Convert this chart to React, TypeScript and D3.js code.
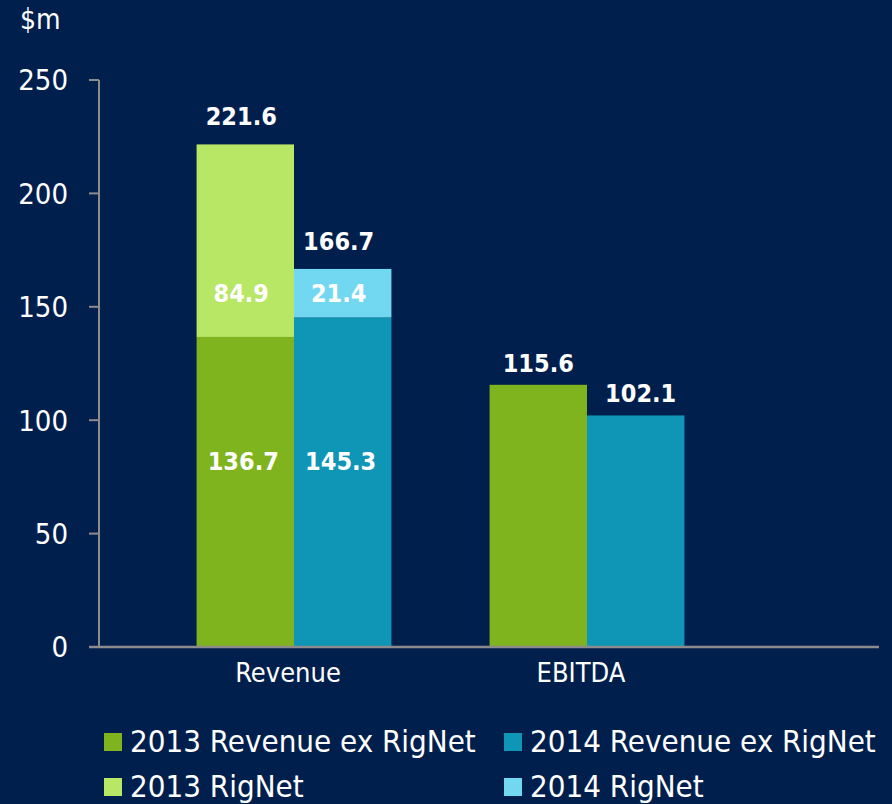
import React, { useEffect } from "react";
import * as d3 from "d3";

// chart data
const categories = ["Revenue", "EBITDA"];
const years = ["2013", "2014"];
const baseValues = [
  [136.7, 145.3], // Revenue ex RigNet
  [115.6, 102.1], // EBITDA
];
const rigNetValues = [
  [84.9, 21.4],
  [0, 0],
];
const yTicks = [0, 50, 100, 150, 200, 250];
const legendLabels = [
  "2013 Revenue ex RigNet",
  "2014 Revenue ex RigNet",
  "2013 RigNet",
  "2014 RigNet",
];

const W = 892;
const H = 804;
const BG = "#001f4d";
const AXIS = "#8c8c8c";
const baseColors = ["#80b41e", "#0f95b6"];
const rigColors = ["#b8e665", "#72d8f2"];
const FONT = "'DejaVu Sans Condensed', 'DejaVu Sans', sans-serif";

export default function App() {
  useEffect(() => {
    document.body.style.margin = "0";
    document.body.style.background = BG;
  }, []);

  const x = d3.scaleBand().domain(categories).range([147.5, 733.5]).paddingInner(0.335).paddingOuter(0.1675);
  const xi = d3.scaleBand().domain(years).range([0, x.bandwidth()]);
  const y = d3.scaleLinear().domain([0, 250]).range([647, 80]);

  const axisLeft = 99;
  const axisRight = 879;

  // rows shared by the segment labels
  const rigLabelY = y(baseValues[0][1] + rigNetValues[0][1] / 2);
  const baseLabelY = y(d3.min(baseValues[0])! * 0.6);

  return (
    <svg width={W} height={H} style={{ display: "block", background: BG }} fontFamily={FONT}>
      <rect width={W} height={H} fill={BG} />
      <text x={20} y={29} fill="#fff" fontSize={28}>$m</text>

      {/* y axis */}
      <line x1={axisLeft} x2={axisLeft} y1={y(250)} y2={y(0)} stroke={AXIS} strokeWidth={2} />
      {yTicks.map((t) => (
        <g key={t}>
          <line x1={axisLeft - 10} x2={axisLeft} y1={y(t)} y2={y(t)} stroke={AXIS} strokeWidth={2} />
          <text x={68} y={y(t)} dy="0.36em" textAnchor="end" fill="#fff" fontSize={29}>{t}</text>
        </g>
      ))}

      {/* bars */}
      {categories.map((c, ci) => (
        <g key={c} transform={`translate(${x(c)},0)`}>
          {years.map((yr, yi) => {
            const b = baseValues[ci][yi];
            const r = rigNetValues[ci][yi];
            const bx = xi(yr)!;
            const bw = xi.bandwidth();
            const cx = bx + bw / 2;
            return (
              <g key={yr}>
                <rect x={bx} y={y(b)} width={bw} height={y(0) - y(b)} fill={baseColors[yi]} />
                {r > 0 && (
                  <rect x={bx} y={y(b + r)} width={bw} height={y(b) - y(b + r)} fill={rigColors[yi]} />
                )}
                {r > 0 ? (
                  <>
                    <text x={cx - 4} y={y(b + r) - 19} textAnchor="middle" fill="#fff" fontSize={25} fontWeight="bold">
                      {(b + r).toFixed(1)}
                    </text>
                    <text x={cx - 4} y={rigLabelY} dy="0.36em" textAnchor="middle" fill="#fff" fontSize={25} fontWeight="bold">
                      {r.toFixed(1)}
                    </text>
                    <text x={cx - 2} y={baseLabelY} dy="0.36em" textAnchor="middle" fill="#fff" fontSize={25} fontWeight="bold">
                      {b.toFixed(1)}
                    </text>
                  </>
                ) : (
                  <text x={cx + yi * 5} y={y(b) - 13} textAnchor="middle" fill="#fff" fontSize={25} fontWeight="bold">
                    {b.toFixed(1)}
                  </text>
                )}
              </g>
            );
          })}
          <text x={x.bandwidth() / 2 - 6} y={682} textAnchor="middle" fill="#fff" fontSize={27}>{c}</text>
        </g>
      ))}

      {/* x axis */}
      <line x1={axisLeft - 10} x2={axisRight} y1={y(0)} y2={y(0)} stroke={AXIS} strokeWidth={2.5} />

      {/* legend */}
      {legendLabels.map((l, i) => {
        const col = i % 2;
        const row = Math.floor(i / 2);
        const lx = col === 0 ? 104 : 504;
        const ly = 733 + row * 45;
        const color = row === 0 ? baseColors[col] : rigColors[col];
        return (
          <g key={l}>
            <rect x={lx} y={ly} width={18} height={18} fill={color} />
            <text x={lx + 26} y={ly + 19} fill="#fff" fontSize={31}>{l}</text>
          </g>
        );
      })}
    </svg>
  );
}
